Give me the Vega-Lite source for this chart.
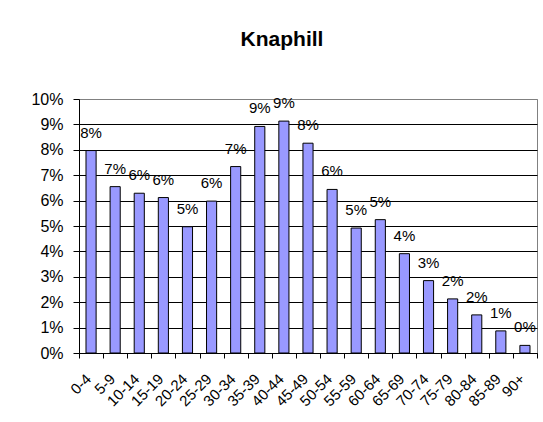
{
  "$schema": "https://vega.github.io/schema/vega-lite/v6.json",
  "width": 458,
  "height": 254,
  "autosize": {"type": "none"},
  "padding": {"left": 79, "top": 99, "right": 6, "bottom": 69},
  "background": "white",
  "title": {
    "text": "Knaphill",
    "font": "Liberation Sans",
    "fontSize": 21,
    "fontWeight": "bold",
    "color": "#000000",
    "anchor": "middle",
    "baseline": "alphabetic",
    "offset": 24,
    "dx": -26
  },
  "config": {
    "view": {"stroke": "#808080", "strokeWidth": 1},
    "font": "Liberation Sans"
  },
  "data": {
    "values": [
      {"age": "0-4", "pct": 0.0797, "label": "8%"},
      {"age": "5-9", "pct": 0.0655, "label": "7%"},
      {"age": "10-14", "pct": 0.0629, "label": "6%"},
      {"age": "15-19", "pct": 0.0612, "label": "6%"},
      {"age": "20-24", "pct": 0.0497, "label": "5%"},
      {"age": "25-29", "pct": 0.0598, "label": "6%"},
      {"age": "30-34", "pct": 0.0734, "label": "7%"},
      {"age": "35-39", "pct": 0.0892, "label": "9%"},
      {"age": "40-44", "pct": 0.0913, "label": "9%"},
      {"age": "45-49", "pct": 0.0826, "label": "8%"},
      {"age": "50-54", "pct": 0.0644, "label": "6%"},
      {"age": "55-59", "pct": 0.0492, "label": "5%"},
      {"age": "60-64", "pct": 0.0525, "label": "5%"},
      {"age": "65-69", "pct": 0.0391, "label": "4%"},
      {"age": "70-74", "pct": 0.0285, "label": "3%"},
      {"age": "75-79", "pct": 0.0213, "label": "2%"},
      {"age": "80-84", "pct": 0.0150, "label": "2%"},
      {"age": "85-89", "pct": 0.0087, "label": "1%"},
      {"age": "90+", "pct": 0.0030, "label": "0%"}
    ]
  },
  "encoding": {
    "x": {
      "field": "age",
      "type": "nominal",
      "sort": null,
      "scale": {"paddingInner": 0, "paddingOuter": 0},
      "axis": {
        "title": null,
        "labelAngle": -45,
        "labelAlign": "right",
        "labelBaseline": "middle",
        "labelFontSize": 15,
        "labelColor": "#000000",
        "labelPadding": 18,
        "labelOffset": -3,
        "tickBand": "extent",
        "tickSize": 5,
        "tickColor": "#000000",
        "domainColor": "#000000",
        "grid": false,
        "labelOverlap": false
      }
    },
    "y": {
      "field": "pct",
      "type": "quantitative",
      "scale": {"domain": [0, 0.1], "nice": false},
      "axis": {
        "title": null,
        "values": [0, 0.01, 0.02, 0.03, 0.04, 0.05, 0.06, 0.07, 0.08, 0.09, 0.1],
        "format": ".0%",
        "labelFontSize": 16,
        "labelColor": "#000000",
        "labelPadding": 10,
        "tickSize": 6,
        "tickColor": "#000000",
        "domainColor": "#000000",
        "grid": true,
        "gridColor": {"condition": {"test": "datum.value >= 0.1", "value": "#808080"}, "value": "#000000"},
        "gridOpacity": 1
      }
    }
  },
  "layer": [
    {
      "mark": {"type": "bar", "width": {"band": 0.42}, "fill": "#9999FF", "stroke": "#000000", "strokeWidth": 1}
    },
    {
      "mark": {"type": "text", "baseline": "alphabetic", "align": "center", "dy": -13, "fontSize": 15, "color": "#000000"},
      "encoding": {"text": {"field": "label"}}
    }
  ]
}
